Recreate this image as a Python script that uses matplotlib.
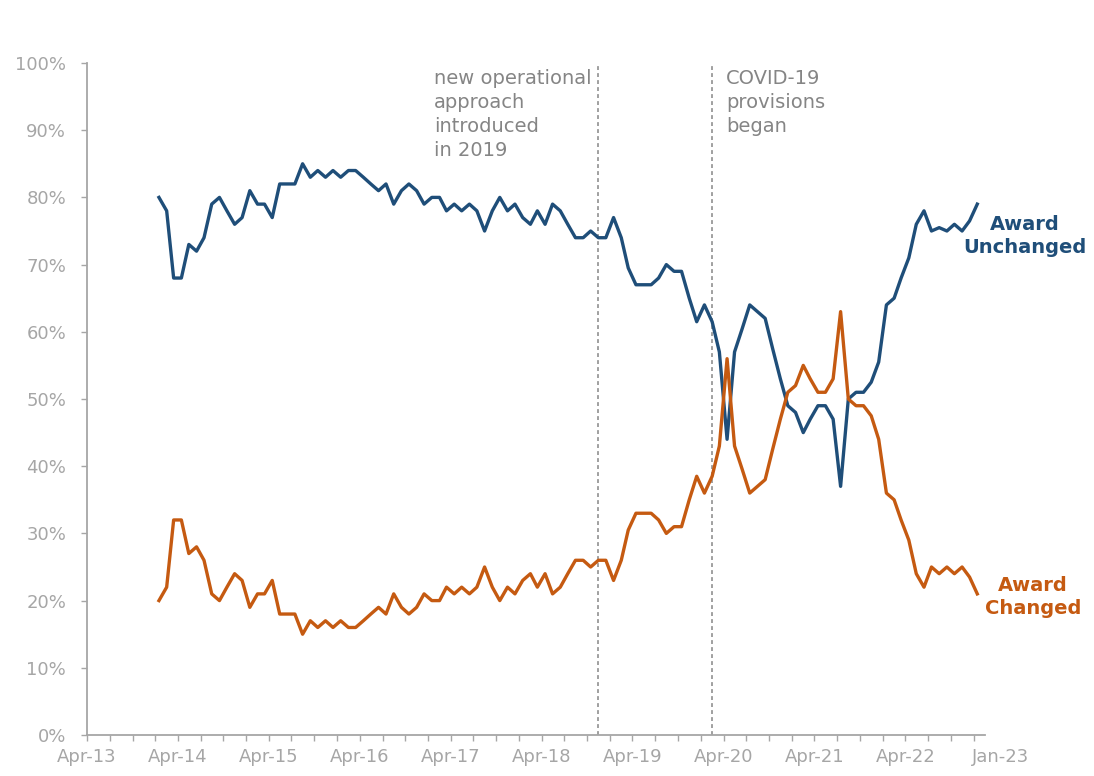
import matplotlib
matplotlib.use("Agg")
import matplotlib.pyplot as plt
import matplotlib.dates as mdates
import pandas as pd
from matplotlib.ticker import FuncFormatter

# monthly share of reviews (%), Jan-14 .. Jan-23, plotted mid-month
months = pd.date_range("2014-01-01", periods=109, freq="MS") + pd.Timedelta(days=14)

unchanged = [
    80, 78, 68, 68, 73, 72, 74, 79, 80, 78,
    76, 77, 81, 79, 79, 77, 82, 82, 82, 85,
    83, 84, 83, 84, 83, 84, 84, 83, 82, 81,
    82, 79, 81, 82, 81, 79, 80, 80, 78, 79,
    78, 79, 78, 75, 78, 80, 78, 79, 77, 76,
    78, 76, 79, 78, 76, 74, 74, 75, 74, 74,
    77, 74, 69.5, 67, 67, 67, 68, 70, 69, 69,
    65, 61.5, 64, 61.5, 57, 44, 57, 60.5, 64, 63,
    62, 57.5, 53, 49, 48, 45, 47, 49, 49, 47,
    37, 50, 51, 51, 52.5, 55.5, 64, 65, 68, 71,
    76, 78, 75, 75.5, 75, 76, 75, 76.5, 79,
]
changed = [
    20, 22, 32, 32, 27, 28, 26, 21, 20, 22,
    24, 23, 19, 21, 21, 23, 18, 18, 18, 15,
    17, 16, 17, 16, 17, 16, 16, 17, 18, 19,
    18, 21, 19, 18, 19, 21, 20, 20, 22, 21,
    22, 21, 22, 25, 22, 20, 22, 21, 23, 24,
    22, 24, 21, 22, 24, 26, 26, 25, 26, 26,
    23, 26, 30.5, 33, 33, 33, 32, 30, 31, 31,
    35, 38.5, 36, 38.5, 43, 56, 43, 39.5, 36, 37,
    38, 42.5, 47, 51, 52, 55, 53, 51, 51, 53,
    63, 50, 49, 49, 47.5, 44, 36, 35, 32, 29,
    24, 22, 25, 24, 25, 24, 25, 23.5, 21,
]

op_change = pd.Timestamp("2018-11-15")
covid = pd.Timestamp("2020-02-15")

year_ticks = pd.date_range("2013-04-01", periods=10, freq="12MS")
year_labels = [d.strftime("%b-%y") for d in year_ticks]
end_tick = pd.Timestamp("2023-01-01")

BLUE = "#1f4e79"
ORANGE = "#c55a11"
GREY = "#a6a6a6"
TEXT_GREY = "#858585"

fig = plt.figure(figsize=(10.94, 7.76), dpi=100)
ax = fig.add_axes([87 / 1094, 41 / 776, 898 / 1094, 672 / 776])

ax.plot(months, unchanged, color=BLUE, lw=2.4, solid_joinstyle="round")
ax.plot(months, changed, color=ORANGE, lw=2.4, solid_joinstyle="round")

for d in (op_change, covid):
    ax.axvline(d, color="#a0a0a0", lw=1.4, ls=(0, (2, 1.6)), zorder=0)

ax.set_ylim(0, 100)
ax.set_xlim(pd.Timestamp("2013-04-01"), pd.Timestamp("2023-02-15"))

ax.set_yticks(range(0, 101, 10))
ax.yaxis.set_major_formatter(FuncFormatter(lambda v, p: f"{v:.0f}%"))
ax.set_xticks(year_ticks)
ax.set_xticklabels(year_labels)
ax.xaxis.set_minor_locator(mdates.MonthLocator(bymonth=[1, 4, 7, 10]))

for s in ("top", "right"):
    ax.spines[s].set_visible(False)
for s in ("left", "bottom"):
    ax.spines[s].set_color(GREY)
    ax.spines[s].set_linewidth(1.3)

ax.tick_params(axis="y", length=4, width=1, color=GREY, labelcolor=GREY,
               labelsize=13, pad=11)
ax.tick_params(axis="x", which="both", length=4, width=1, color=GREY,
               labelcolor=GREY, labelsize=13, pad=5)

# last label sits a little right of its tick in the original
ax.annotate(end_tick.strftime("%b-%y"), xy=(end_tick, 0),
            xycoords=("data", "axes fraction"), xytext=(19, -9),
            textcoords="offset points", ha="center", va="top",
            fontsize=13, color=GREY, annotation_clip=False)

ax.annotate("new operational\napproach\nintroduced\nin 2019", xy=(op_change, 1),
            xycoords=("data", "axes fraction"), xytext=(-5, -4),
            textcoords="offset points", ha="right", va="top",
            multialignment="left", fontsize=14, color=TEXT_GREY, linespacing=1.35)
ax.annotate("COVID-19\nprovisions\nbegan", xy=(covid, 1),
            xycoords=("data", "axes fraction"), xytext=(10, -4),
            textcoords="offset points", ha="left", va="top",
            fontsize=14, color=TEXT_GREY, linespacing=1.35)

fig.text(1025 / 1094, 1 - 236 / 776, "Award\nUnchanged", color=BLUE,
         fontsize=14, fontweight="bold", ha="center", va="center", linespacing=1.3)
fig.text(1033 / 1094, 1 - 597 / 776, "Award\nChanged", color=ORANGE,
         fontsize=14, fontweight="bold", ha="center", va="center", linespacing=1.3)

fig.savefig("out.png", dpi=100)
